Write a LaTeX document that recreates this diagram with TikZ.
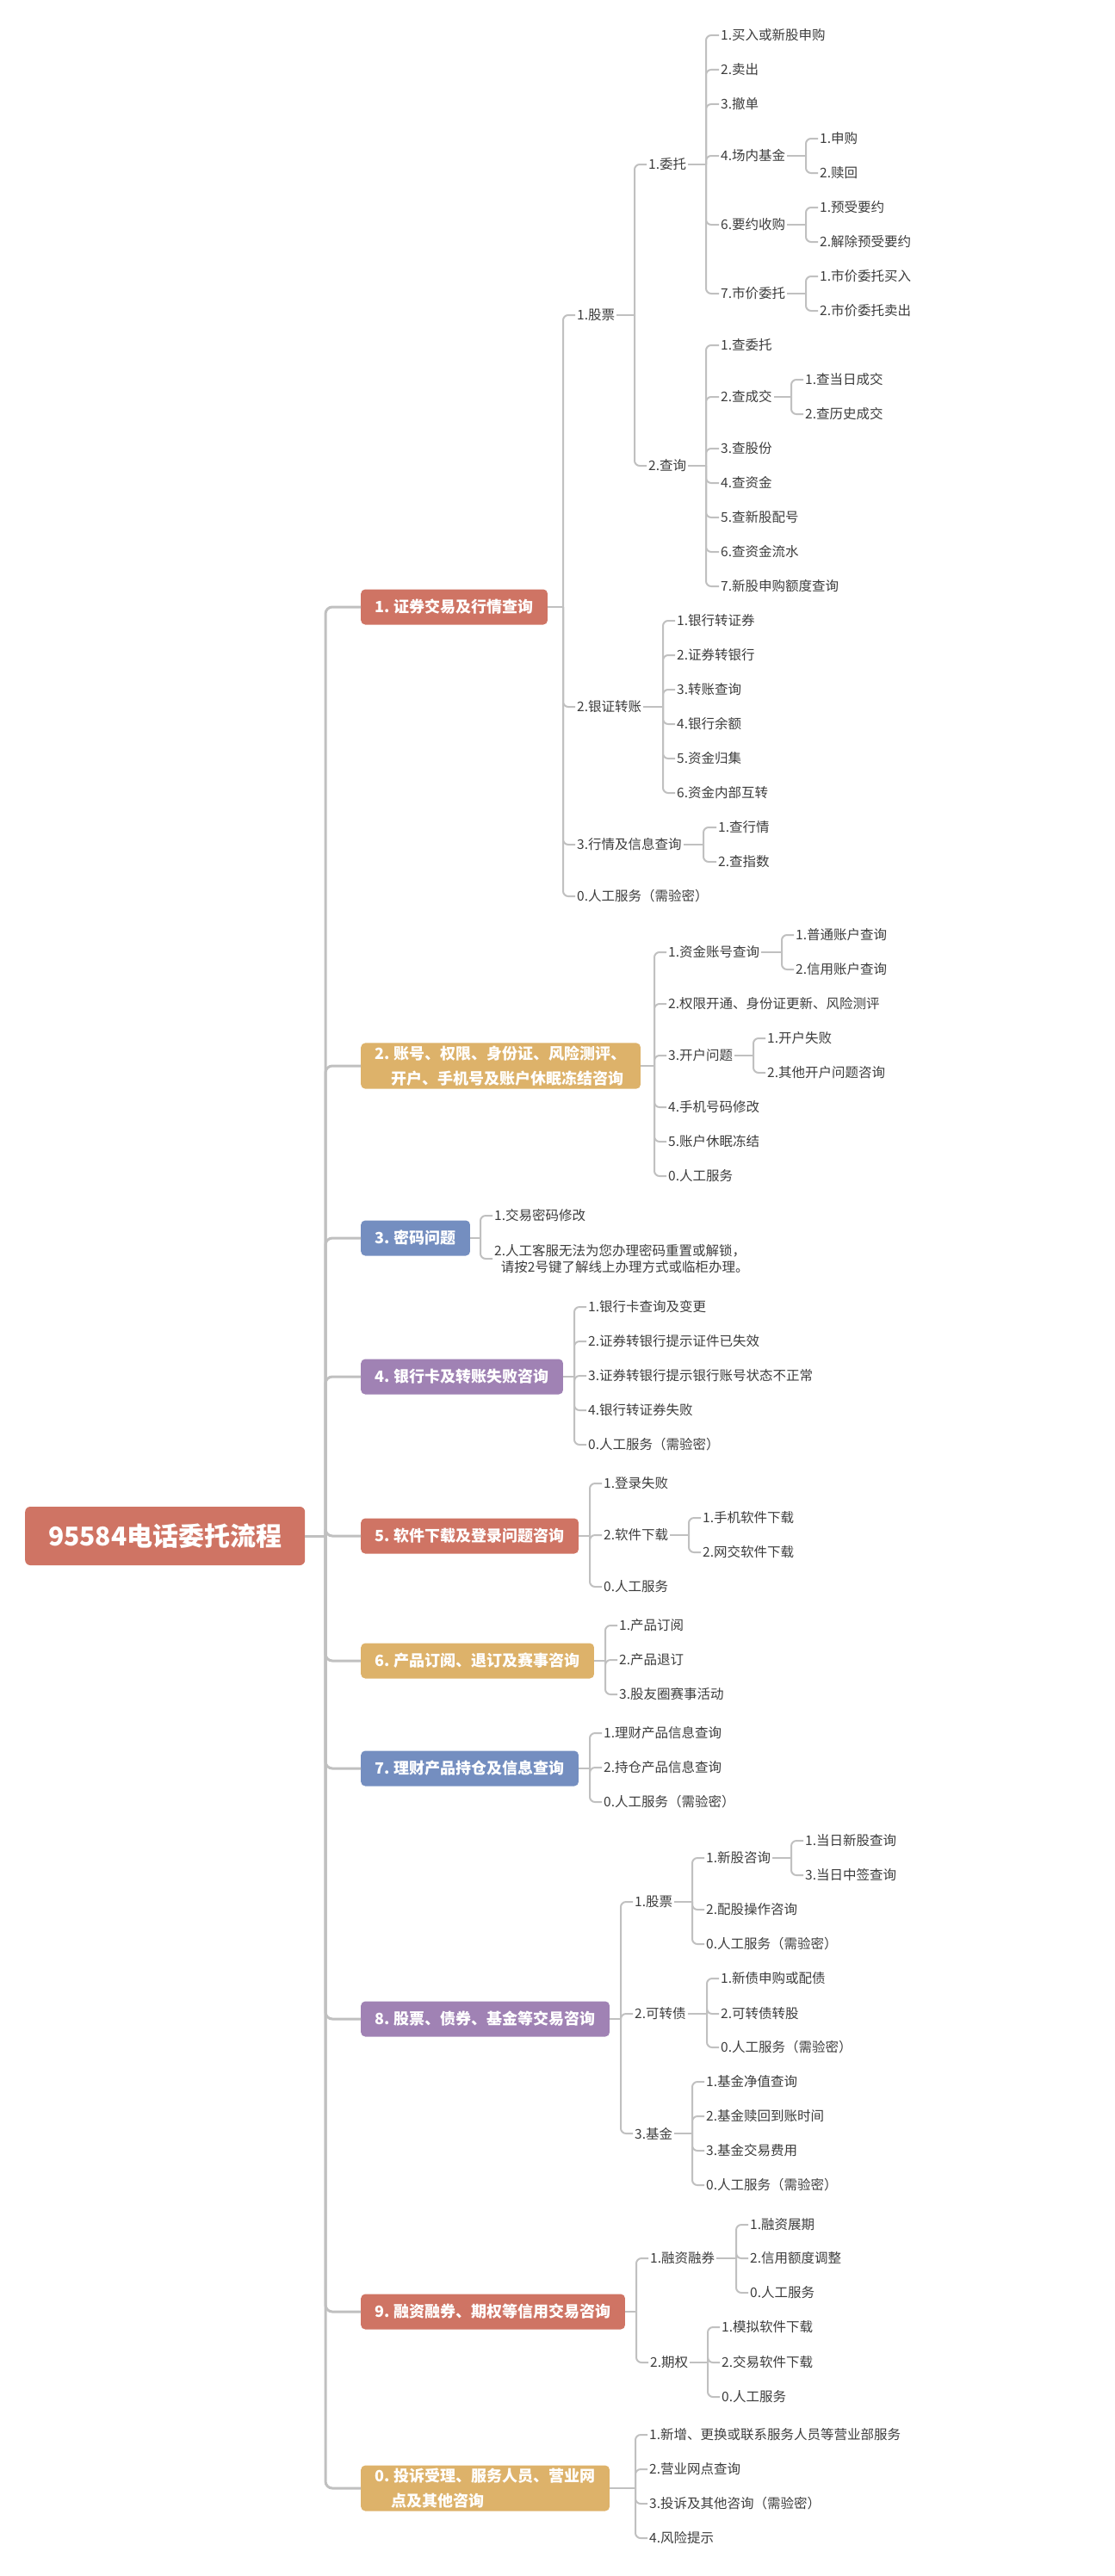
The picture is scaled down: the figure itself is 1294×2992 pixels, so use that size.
\documentclass[tikz,border=0pt]{standalone}
\usepackage{fontspec}
\setmainfont{Noto Sans CJK SC}
\definecolor{cred}{RGB}{207,116,100}
\definecolor{cgold}{RGB}{221,178,106}
\definecolor{cblue}{RGB}{116,142,192}
\definecolor{cpurp}{RGB}{160,130,180}
\definecolor{cline}{RGB}{192,192,192}
\definecolor{ctext}{RGB}{60,60,60}
\tikzset{
 lf/.style={anchor=west,inner xsep=2pt,inner ysep=1pt,text=ctext,font=\fontsize{15.5}{19}\selectfont,align=left},
 l1/.style={anchor=west,rounded corners=5pt,inner xsep=16pt,minimum height=41pt,text=white,font=\fontsize{18}{29}\selectfont\bfseries,align=left},
 ln/.style={draw=cline,line width=2pt},
 trunk/.style={draw=cline,line width=3pt}
}
\newcommand\br[3]{%
 \coordinate (tmpb) at (#2,0);
 \foreach \c in {#3}{\draw[ln,rounded corners=6pt] (#1.east -| tmpb) |- (\c.west);}
 \draw[ln] (#1.east) -- (#1.east -| tmpb);
}
\begin{document}
\begin{tikzpicture}[x=1pt,y=-1pt]
\useasboundingbox (0,0) rectangle (1294,2992);
% root
\node[anchor=west,fill=cred,rounded corners=6pt,minimum width=325pt,minimum height=68pt,text=white,font=\fontsize{30}{36}\selectfont\bfseries] (R) at (29,1784) {95584电话委托流程};
% level 1
\node[l1,fill=cred] (A) at (419,705) {1. 证券交易及行情查询};
\node[l1,fill=cgold] (B) at (419,1238) {2. 账号、权限、身份证、风险测评、\\\hspace{1.05em}开户、手机号及账户休眠冻结咨询};
\node[l1,fill=cblue] (C) at (419,1438) {3. 密码问题};
\node[l1,fill=cpurp] (D) at (419,1599) {4. 银行卡及转账失败咨询};
\node[l1,fill=cred] (E) at (419,1784) {5. 软件下载及登录问题咨询};
\node[l1,fill=cgold] (F) at (419,1929) {6. 产品订阅、退订及赛事咨询};
\node[l1,fill=cblue] (G) at (419,2054) {7. 理财产品持仓及信息查询};
\node[l1,fill=cpurp] (H) at (419,2345) {8. 股票、债券、基金等交易咨询};
\node[l1,fill=cred] (I) at (419,2685) {9. 融资融券、期权等信用交易咨询};
\node[l1,fill=cgold] (J) at (419,2890) {0. 投诉受理、服务人员、营业网\\\hspace{1.05em}点及其他咨询};
% trunk
\coordinate (T) at (378,1784);
\draw[trunk] (R.east) -- (T);
\foreach \c in {A,B,C,D,E,F,G,H,I,J}{\draw[trunk,rounded corners=8pt] (T) |- (\c.west);}
% A
\node[lf] (A1) at (668,366) {1.股票};
\node[lf] (A2) at (668,821) {2.银证转账};
\node[lf] (A3) at (668,981) {3.行情及信息查询};
\node[lf] (A4) at (668,1041) {0.人工服务（需验密）};
\br{A}{654}{A1,A2,A3,A4}
\node[lf] (A11) at (751,191) {1.委托};
\node[lf] (A12) at (751,541) {2.查询};
\br{A1}{737}{A11,A12}
\node[lf] (A111) at (835,41) {1.买入或新股申购};
\node[lf] (A112) at (835,81) {2.卖出};
\node[lf] (A113) at (835,121) {3.撤单};
\node[lf] (A114) at (835,181) {4.场内基金};
\node[lf] (A115) at (835,261) {6.要约收购};
\node[lf] (A116) at (835,341) {7.市价委托};
\br{A11}{820}{A111,A112,A113,A114,A115,A116}
\node[lf] (A1141) at (950,161) {1.申购};
\node[lf] (A1142) at (950,201) {2.赎回};
\br{A114}{936}{A1141,A1142}
\node[lf] (A1151) at (950,241) {1.预受要约};
\node[lf] (A1152) at (950,281) {2.解除预受要约};
\br{A115}{936}{A1151,A1152}
\node[lf] (A1161) at (950,321) {1.市价委托买入};
\node[lf] (A1162) at (950,361) {2.市价委托卖出};
\br{A116}{936}{A1161,A1162}
\node[lf] (A121) at (835,401) {1.查委托};
\node[lf] (A122) at (835,461) {2.查成交};
\node[lf] (A123) at (835,521) {3.查股份};
\node[lf] (A124) at (835,561) {4.查资金};
\node[lf] (A125) at (835,601) {5.查新股配号};
\node[lf] (A126) at (835,641) {6.查资金流水};
\node[lf] (A127) at (835,681) {7.新股申购额度查询};
\br{A12}{820}{A121,A122,A123,A124,A125,A126,A127}
\node[lf] (A1221) at (933,441) {1.查当日成交};
\node[lf] (A1222) at (933,481) {2.查历史成交};
\br{A122}{919}{A1221,A1222}
\node[lf] (A21) at (784,721) {1.银行转证券};
\node[lf] (A22) at (784,761) {2.证券转银行};
\node[lf] (A23) at (784,801) {3.转账查询};
\node[lf] (A24) at (784,841) {4.银行余额};
\node[lf] (A25) at (784,881) {5.资金归集};
\node[lf] (A26) at (784,921) {6.资金内部互转};
\br{A2}{770}{A21,A22,A23,A24,A25,A26}
\node[lf] (A31) at (832,961) {1.查行情};
\node[lf] (A32) at (832,1001) {2.查指数};
\br{A3}{817}{A31,A32}
% B
\node[lf] (B1) at (774,1106) {1.资金账号查询};
\node[lf] (B2) at (774,1166) {2.权限开通、身份证更新、风险测评};
\node[lf] (B3) at (774,1226) {3.开户问题};
\node[lf] (B4) at (774,1286) {4.手机号码修改};
\node[lf] (B5) at (774,1326) {5.账户休眠冻结};
\node[lf] (B6) at (774,1366) {0.人工服务};
\br{B}{760}{B1,B2,B3,B4,B5,B6}
\node[lf] (B11) at (922,1086) {1.普通账户查询};
\node[lf] (B12) at (922,1126) {2.信用账户查询};
\br{B1}{908}{B11,B12}
\node[lf] (B31) at (889,1206) {1.开户失败};
\node[lf] (B32) at (889,1246) {2.其他开户问题咨询};
\br{B3}{875}{B31,B32}
% C
\node[lf] (C1) at (572,1412) {1.交易密码修改};
\node[lf] (C2) at (572,1462) {2.人工客服无法为您办理密码重置或解锁，\\\hspace{0.5em}请按2号键了解线上办理方式或临柜办理。};
\br{C}{558}{C1,C2}
% D
\node[lf] (D1) at (681,1518) {1.银行卡查询及变更};
\node[lf] (D2) at (681,1558) {2.证券转银行提示证件已失效};
\node[lf] (D3) at (681,1598) {3.证券转银行提示银行账号状态不正常};
\node[lf] (D4) at (681,1638) {4.银行转证券失败};
\node[lf] (D5) at (681,1678) {0.人工服务（需验密）};
\br{D}{667}{D1,D2,D3,D4,D5}
% E
\node[lf] (E1) at (699,1723) {1.登录失败};
\node[lf] (E2) at (699,1783) {2.软件下载};
\node[lf] (E3) at (699,1843) {0.人工服务};
\br{E}{685}{E1,E2,E3}
\node[lf] (E21) at (814,1763) {1.手机软件下载};
\node[lf] (E22) at (814,1803) {2.网交软件下载};
\br{E2}{800}{E21,E22}
% F
\node[lf] (F1) at (717,1888) {1.产品订阅};
\node[lf] (F2) at (717,1928) {2.产品退订};
\node[lf] (F3) at (717,1968) {3.股友圈赛事活动};
\br{F}{703}{F1,F2,F3}
% G
\node[lf] (G1) at (699,2013) {1.理财产品信息查询};
\node[lf] (G2) at (699,2053) {2.持仓产品信息查询};
\node[lf] (G3) at (699,2093) {0.人工服务（需验密）};
\br{G}{685}{G1,G2,G3}
% H
\node[lf] (H1) at (735,2209) {1.股票};
\node[lf] (H2) at (735,2339) {2.可转债};
\node[lf] (H3) at (735,2478) {3.基金};
\br{H}{721}{H1,H2,H3}
\node[lf] (H11) at (818,2158) {1.新股咨询};
\node[lf] (H12) at (818,2218) {2.配股操作咨询};
\node[lf] (H13) at (818,2258) {0.人工服务（需验密）};
\br{H1}{804}{H11,H12,H13}
\node[lf] (H111) at (933,2138) {1.当日新股查询};
\node[lf] (H112) at (933,2178) {3.当日中签查询};
\br{H11}{919}{H111,H112}
\node[lf] (H21) at (835,2298) {1.新债申购或配债};
\node[lf] (H22) at (835,2339) {2.可转债转股};
\node[lf] (H23) at (835,2378) {0.人工服务（需验密）};
\br{H2}{821}{H21,H22,H23}
\node[lf] (H31) at (818,2418) {1.基金净值查询};
\node[lf] (H32) at (818,2458) {2.基金赎回到账时间};
\node[lf] (H33) at (818,2498) {3.基金交易费用};
\node[lf] (H34) at (818,2538) {0.人工服务（需验密）};
\br{H3}{804}{H31,H32,H33,H34}
% I
\node[lf] (I1) at (753,2623) {1.融资融券};
\node[lf] (I2) at (753,2744) {2.期权};
\br{I}{739}{I1,I2}
\node[lf] (I11) at (869,2584) {1.融资展期};
\node[lf] (I12) at (869,2623) {2.信用额度调整};
\node[lf] (I13) at (869,2663) {0.人工服务};
\br{I1}{855}{I11,I12,I13}
\node[lf] (I21) at (836,2703) {1.模拟软件下载};
\node[lf] (I22) at (836,2744) {2.交易软件下载};
\node[lf] (I23) at (836,2784) {0.人工服务};
\br{I2}{822}{I21,I22,I23}
% J
\node[lf] (J1) at (752,2828) {1.新增、更换或联系服务人员等营业部服务};
\node[lf] (J2) at (752,2868) {2.营业网点查询};
\node[lf] (J3) at (752,2908) {3.投诉及其他咨询（需验密）};
\node[lf] (J4) at (752,2948) {4.风险提示};
\br{J}{738}{J1,J2,J3,J4}
\end{tikzpicture}
\end{document}
